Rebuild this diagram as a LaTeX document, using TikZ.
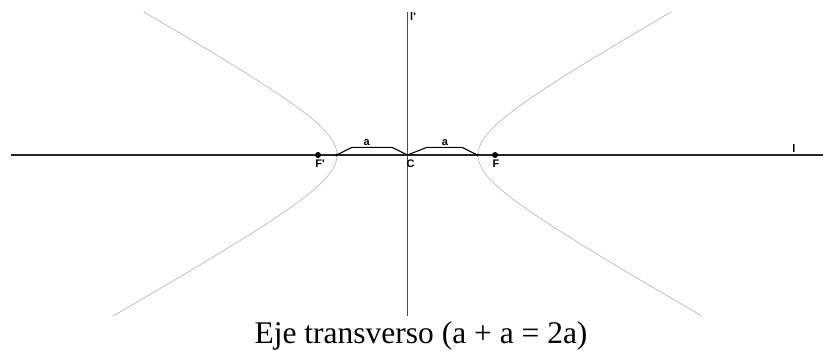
\documentclass[tikz,border=0pt]{standalone}
\usepackage{fontspec}
\setmainfont{Liberation Serif}
\newfontfamily\lblfont{Liberation Sans}
\begin{document}
\begin{tikzpicture}[x=1pt,y=-1pt,
  axis/.style={line width=1.4pt,draw=black!85},
  vaxis/.style={line width=0.8pt,draw=black!70},
  branch/.style={line width=0.6pt,draw=black!30},
  seg/.style={line width=1.1pt,draw=black},
  focus/.style={circle,fill=black,inner sep=0pt,minimum size=6pt},
  vert/.style={circle,fill=black,inner sep=0pt,minimum size=3pt},
  pt/.style={inner sep=0pt,minimum size=0pt},
  lbl/.style={font=\lblfont\bfseries\fontsize{11}{13}\selectfont,inner sep=0pt},
  captext/.style={font=\fontsize{31.5}{36}\selectfont,inner sep=0pt}]
\useasboundingbox (0,0) rectangle (823,351);
% axes
\coordinate (hL) at (11,155);
\coordinate (hR) at (823,155);
\coordinate (vT) at (407.5,12);
\coordinate (vB) at (407.5,316);
\draw[axis] (hL) -- (hR);
\draw[vaxis] (vT) -- (vB);
% hyperbola branches
\draw[branch] plot[domain=-2.107:1.996,samples=120,smooth] ({407.5+70.5*cosh(\x)},{155-39.7*sinh(\x)});
\draw[branch] plot[domain=-2.107:1.996,samples=120,smooth] ({407.5-70.5*cosh(\x)},{155-39.7*sinh(\x)});
% points
\node[pt] (C) at (407.5,155) {};
\node[vert] (V1) at (336.5,155) {};
\node[vert] (V2) at (477.5,155) {};
\node[focus] (F1) at (318,155) {};
\node[focus] (F2) at (495,155) {};
% a-segments
\coordinate (p1) at (352,147.3);
\coordinate (p2) at (392,147.3);
\coordinate (p3) at (427,147.3);
\coordinate (p4) at (462,147.3);
\draw[seg,line join=round] (V1.center) -- (p1) -- (p2) -- (C.center);
\draw[seg,line join=round] (C.center) -- (p3) -- (p4) -- (V2.center);
% labels
\node[lbl] (la1) at (366.7,142.5) {a};
\node[lbl] (la2) at (445,142.5) {a};
\node[lbl] (lF1) at (320,164) {F'};
\node[lbl] (lF2) at (496,164) {F};
\node[lbl] (lC) at (410.7,164) {C};
\node[lbl] (ll) at (794,149) {l};
\node[lbl,anchor=north west] (llp) at (410,12.5) {l'};
\node[captext,anchor=base] (caption) at (421,343) {Eje transverso (a + a = 2a)};
\end{tikzpicture}
\end{document}
